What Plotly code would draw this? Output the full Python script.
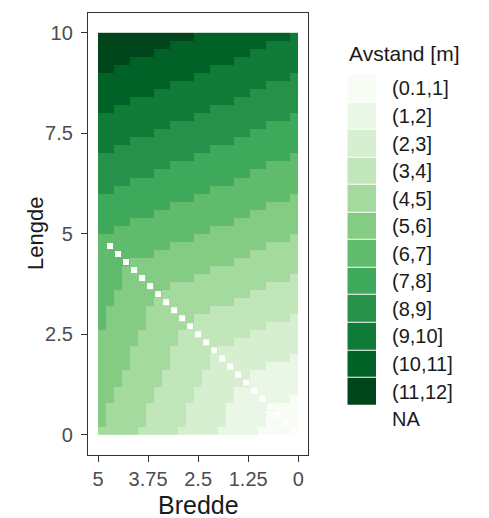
import plotly.graph_objects as go

# ---- data ----
bredde = [0.1, 0.3, 0.5, 0.7, 0.9, 1.1, 1.3, 1.5, 1.7, 1.9, 2.1, 2.3, 2.5,
          2.7, 2.9, 3.1, 3.3, 3.5, 3.7, 3.9, 4.1, 4.3, 4.5, 4.7, 4.9]
lengde = [9.9, 9.7, 9.5, 9.3, 9.1, 8.9, 8.7, 8.5, 8.3, 8.1,
          7.9, 7.7, 7.5, 7.3, 7.1, 6.9, 6.7, 6.5, 6.3, 6.1,
          5.9, 5.7, 5.5, 5.3, 5.1, 4.9, 4.7, 4.5, 4.3, 4.1,
          3.9, 3.7, 3.5, 3.3, 3.1, 2.9, 2.7, 2.5, 2.3, 2.1,
          1.9, 1.7, 1.5, 1.3, 1.1, 0.9, 0.7, 0.5, 0.3, 0.1]
# one string per Lengde row (top to bottom), one char per Bredde column (0.1 -> 4.9)
# 1..9 = (0.1,1] .. (8,9], a = (9,10], b = (10,11], c = (11,12], . = NA
avstand_klasse = [
    "abbbb bbbbb bbbcc ccccc ccccc",
    "aaaab bbbbb bbbbb bcccc ccccc",
    "aaaaa abbbb bbbbb bbbcc ccccc",
    "aaaaa aaabb bbbbb bbbbb bcccc",
    "aaaaa aaaaa abbbb bbbbb bbbcc",
    "9aaaa aaaaa aaabb bbbbb bbbbb",
    "9999a aaaaa aaaaa abbbb bbbbb",
    "99999 9aaaa aaaaa aaabb bbbbb",
    "99999 999aa aaaaa aaaaa abbbb",
    "99999 99999 9aaaa aaaaa aaabb",
    "89999 99999 999aa aaaaa aaaaa",
    "88889 99999 99999 9aaaa aaaaa",
    "88888 89999 99999 999aa aaaaa",
    "88888 88899 99999 99999 9aaaa",
    "88888 88888 89999 99999 999aa",
    "78888 88888 88899 99999 99999",
    "77778 88888 88888 89999 99999",
    "77777 78888 88888 88899 99999",
    "77777 77788 88888 88888 89999",
    "77777 77777 78888 88888 88899",
    "67777 77777 77788 88888 88888",
    "66667 77777 77777 78888 88888",
    "66666 67777 77777 77788 88888",
    "66666 66677 77777 77777 78888",
    "66666 66666 67777 77777 77788",
    "56666 66666 66677 77777 77777",
    "55556 66666 66666 67777 777.7",
    "55555 56666 66666 66677 77.77",
    "55555 55566 66666 66666 6.777",
    "55555 55555 56666 66666 .6777",
    "45555 55555 55566 6666. 66777",
    "44445 55555 55555 566.6 66777",
    "44444 45555 55555 55.66 66677",
    "44444 44455 55555 5.566 66677",
    "44444 44444 45555 .5556 66667",
    "34444 44444 4445. 55556 66667",
    "33334 44444 444.5 55556 66667",
    "33333 34444 44.44 55555 66666",
    "33333 33344 4.444 55555 66666",
    "33333 33333 .4444 45555 56666",
    "23333 3333. 34444 45555 56666",
    "22223 333.3 34444 45555 56666",
    "22222 23.33 33444 44555 55666",
    "22222 2.333 33444 44555 55666",
    "22222 .2233 33344 44455 55566",
    "1222. 22233 33344 44455 55566",
    "111.2 22223 33334 44445 55556",
    "11.12 22223 33334 44445 55556",
    "1.112 22223 33334 44445 55556",
    ".1111 22222 33333 44444 55555",
]
klasse_labels = ["(0.1,1]", "(1,2]", "(2,3]", "(3,4]", "(4,5]", "(5,6]",
                 "(6,7]", "(7,8]", "(8,9]", "(9,10]", "(10,11]", "(11,12]"]
klasse_farger = ["#F7FCF5", "#EAF7E6", "#D7EFD1", "#C0E6B9", "#A4DA9E", "#84CC84",
                 "#61BB6D", "#3EA85B", "#289149", "#107B37", "#006227", "#00441B"]
na_label = "NA"
x_ticks = [5, 3.75, 2.5, 1.25, 0]
x_ticktext = ["5", "3.75", "2.5", "1.25", "0"]
y_ticks = [0, 2.5, 5, 7.5, 10]
y_ticktext = ["0", "2.5", "5", "7.5", "10"]

# ---- build matrices ----
code = {c: i for i, c in enumerate("123456789abc")}
z = []
for row in avstand_klasse:
    s = row.replace(" ", "")
    assert len(s) == len(bredde)
    z.append([code.get(c) for c in s])

# NA cells shown as small white squares on top of the neighbouring colour
na_x, na_y = [], []
z_fill = []
for r, row in enumerate(z):
    new = list(row)
    for i, v in enumerate(row):
        if v is None:
            na_x.append(bredde[i])
            na_y.append(lengde[r])
            new[i] = row[i + 1] if i + 1 < len(row) else row[i - 1]
    z_fill.append(new)

y_asc = lengde[::-1]
z_asc = z_fill[::-1]

n = len(klasse_farger)
cs = []
for k, c in enumerate(klasse_farger):
    cs.append([k / n, c])
    cs.append([(k + 1) / n, c])

W, H = 489, 518
OFF = 8  # page body margin


def fx(px):
    return (px - OFF) / W


def fy(py):
    return 1 - (py - OFF) / H


FONT = "Liberation Sans, Arial, sans-serif"

fig = go.Figure()
fig.add_trace(go.Heatmap(x=bredde, y=y_asc, z=z_asc, colorscale=cs,
                         zmin=-0.5, zmax=n - 0.5, showscale=False,
                         hoverinfo="skip", xaxis="x", yaxis="y"))
fig.add_trace(go.Scatter(x=na_x, y=na_y, mode="markers",
                         marker=dict(symbol="square", size=6, color="white",
                                     line=dict(width=0)),
                         hoverinfo="skip", showlegend=False,
                         xaxis="x", yaxis="y"))

# legend drawn as a one-column heatmap
leg_z = [[k] for k in range(n)] + [[None]]
fig.add_trace(go.Heatmap(x=[0], y=list(range(n + 1)), z=leg_z, colorscale=cs,
                         zmin=-0.5, zmax=n - 0.5, showscale=False, ygap=1,
                         hoverinfo="skip", xaxis="x2", yaxis="y2"))

line_col = "#333333"
tick_font = dict(family=FONT, size=20, color="#4D4D4D")

fig.update_layout(
    width=W, height=H,
    margin=dict(l=0, r=0, t=0, b=0),
    paper_bgcolor="white", plot_bgcolor="white",
    showlegend=False,
    font=dict(family=FONT),
    xaxis=dict(domain=[fx(88), fx(308.3)], range=[5.25, -0.25],
               tickvals=x_ticks, ticktext=x_ticktext, ticks="outside",
               ticklen=6, tickwidth=1.4, tickcolor=line_col,
               showline=True, mirror=True, linecolor=line_col, linewidth=1.3,
               showgrid=False, zeroline=False, tickfont=tick_font,
               automargin=False, anchor="y"),
    yaxis=dict(domain=[fy(455), fy(12.7)], range=[-0.5, 10.5],
               tickvals=y_ticks, ticktext=y_ticktext, ticks="outside",
               ticklen=6, tickwidth=1.4, tickcolor=line_col,
               showline=True, mirror=True, linecolor=line_col, linewidth=1.3,
               showgrid=False, zeroline=False, tickfont=tick_font,
               ticklabelstandoff=4, automargin=False, anchor="x"),
    xaxis2=dict(domain=[fx(347.3), fx(376)], range=[-0.5, 0.5], visible=False,
                anchor="y2", fixedrange=True),
    yaxis2=dict(domain=[fy(432.9), fy(74.7)], range=[n + 0.5, -0.5],
                anchor="x2", side="right", tickvals=list(range(n + 1)),
                ticktext=klasse_labels + [na_label], ticks="outside",
                ticklen=11, tickcolor="rgba(0,0,0,0)", showline=False,
                showgrid=False, zeroline=False, automargin=False,
                tickfont=dict(family=FONT, size=20, color="#1A1A1A")),
    annotations=[
        dict(text="Avstand [m]", xref="paper", yref="paper",
             x=fx(347), y=fy(53), xanchor="left", yanchor="middle",
             showarrow=False, font=dict(family=FONT, size=21, color="#1A1A1A")),
        dict(text="Lengde", xref="paper", yref="paper", textangle=-90,
             x=fx(35), y=fy(234), xanchor="center", yanchor="middle",
             showarrow=False, font=dict(family=FONT, size=22, color="#1A1A1A")),
        dict(text="Bredde", xref="paper", yref="paper",
             x=fx(198), y=fy(505), xanchor="center", yanchor="middle",
             showarrow=False, font=dict(family=FONT, size=25, color="#1A1A1A")),
    ],
)

fig.write_html("out.html")
